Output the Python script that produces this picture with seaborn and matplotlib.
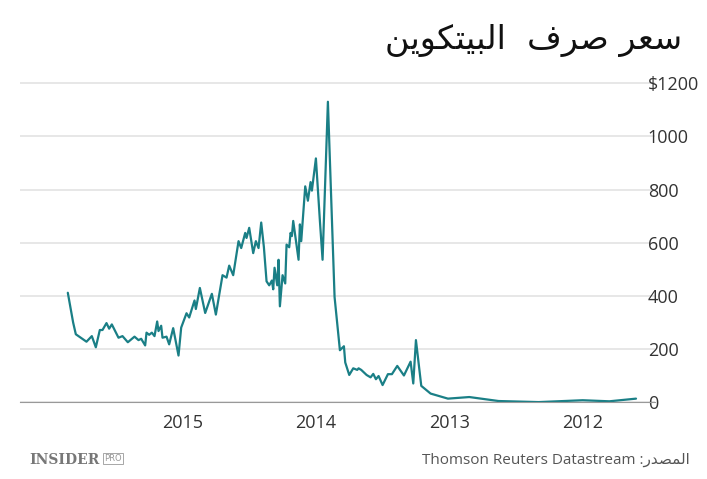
import matplotlib
matplotlib.use("Agg")
import matplotlib.pyplot as plt
import seaborn as sns
import pandas as pd

years = [2015.86,2015.82,2015.80,2015.72,2015.68,2015.65,2015.62,2015.60,2015.57,2015.55,2015.53,2015.48,2015.45,2015.41,2015.36,2015.33,2015.31,2015.28,2015.27,2015.25,2015.23,2015.21,2015.19,2015.18,2015.16,2015.15,2015.12,2015.10,2015.07,2015.03,2015.01,2014.97,2014.95,2014.91,2014.90,2014.87,2014.83,2014.78,2014.75,2014.70,2014.67,2014.65,2014.62,2014.58,2014.56,2014.53,2014.52,2014.50,2014.47,2014.45,2014.43,2014.41,2014.39,2014.37,2014.35,2014.33,2014.32,2014.31,2014.29,2014.28,2014.27,2014.25,2014.23,2014.22,2014.20,2014.19,2014.18,2014.17,2014.13,2014.12,2014.11,2014.08,2014.06,2014.04,2014.03,2014.00,2013.97,2013.95,2013.91,2013.86,2013.82,2013.79,2013.78,2013.75,2013.72,2013.69,2013.68,2013.66,2013.62,2013.59,2013.57,2013.55,2013.53,2013.50,2013.46,2013.43,2013.39,2013.34,2013.29,2013.27,2013.25,2013.21,2013.14,2013.01,2012.85,2012.63,2012.33,2012.00,2011.80,2011.60]
prices = [412,300,256,228,249,207,272,272,298,277,293,243,249,226,247,234,239,214,262,254,262,249,304,268,288,243,247,218,279,176,281,335,319,383,351,430,336,408,330,478,469,514,478,606,580,637,618,656,561,606,580,676,584,455,440,458,425,506,440,536,361,478,447,593,583,637,625,682,536,669,606,812,758,828,796,917,682,536,1130,396,196,211,150,103,128,122,128,122,103,94,107,87,99,65,106,106,137,101,153,71,234,62,33,14,20,5,1,8,4,14]
tick_years = [2015, 2014, 2013, 2012]
y_ticks = [0, 200, 400, 600, 800, 1000, 1200]
y_labels = ["0", "200", "400", "600", "800", "1000", "$1200"]

df = pd.DataFrame({"year": years, "price": prices})
sns.set_style("white")
plt.rcParams['font.family'] = ['Open Sans', 'DejaVu Sans']

fig = plt.figure(figsize=(7.07, 4.79), dpi=100)
ax = fig.add_axes([0.028, 0.16, 0.898, 0.672])
sns.lineplot(data=df, x="year", y="price", ax=ax, color="#1a7f86", linewidth=1.6)
ax.set_xlim(2016.22, 2011.46)
ax.set_ylim(0, 1210)
ax.set_yticks(y_ticks)
ax.set_yticklabels(y_labels)
ax.yaxis.tick_right()
ax.set_xticks(tick_years)
ax.set_xticklabels([str(t) for t in tick_years])
ax.tick_params(axis="y", length=0, labelsize=13, colors="#333333", pad=-5)
ax.tick_params(axis="x", length=5, color="#999999", labelsize=13, labelcolor="#333333", direction="out")
for lab in ax.get_yticklabels():
    lab.set_horizontalalignment("left")
ax.grid(axis="y", color="#e3e3e3", linewidth=1.2)
for s in ["top", "right", "left"]:
    ax.spines[s].set_visible(False)
ax.spines["bottom"].set_color("#999999")
ax.set_xlabel("")
ax.set_ylabel("")

title = "\uFEE6\uFEF3\uFEEE\uFEDC\uFE98\uFEF4\uFE92\uFEDF\uFE8D  \uFED1\uFEAE\uFEBB \uFEAE\uFECC\uFEB3"
fig.text(0.965, 0.915, title, ha="right", va="center", fontsize=24, color="#111111",
         family=["DejaVu Sans"])
src = "Thomson Reuters Datastream :" + "\uFEAD\uFEAA\uFEBC\uFEE4\uFEDF\uFE8D"
fig.text(0.975, 0.04, src, ha="right", va="center", fontsize=11, color="#555555",
         family=["Open Sans", "DejaVu Sans"])
fig.text(0.042, 0.04, "INSIDER", ha="left", va="center", fontsize=10, color="#777777",
         fontweight="bold", family=["DejaVu Serif"])
fig.text(0.147, 0.043, "PRO", ha="left", va="center", fontsize=6, color="#999999",
         family=["DejaVu Sans"], bbox=dict(facecolor="none", edgecolor="#999999", pad=0.8, linewidth=0.6))
fig.savefig("out.png", dpi=100)
